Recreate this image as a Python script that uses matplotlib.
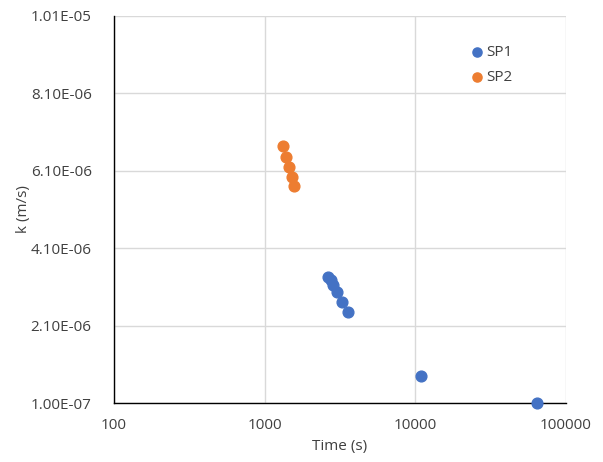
import matplotlib
matplotlib.use("Agg")
import matplotlib.pyplot as plt
from matplotlib.ticker import FixedLocator, FuncFormatter

# values
sp1_time = [2630, 2760, 2840, 3020, 3260, 3570, 10900, 64200]
sp1_k = [3.36e-6, 3.28e-6, 3.15e-6, 2.97e-6, 2.71e-6, 2.45e-6, 7.98e-7, 1.0e-7]
sp2_time = [1320, 1390, 1450, 1510, 1565]
sp2_k = [6.75e-6, 6.46e-6, 6.19e-6, 5.93e-6, 5.71e-6]

x_ticks = [100, 1000, 10000, 100000]
y_ticks = [1.0e-7, 2.1e-6, 4.1e-6, 6.1e-6, 8.1e-6, 1.01e-5]

plt.rcParams['font.family'] = ['Open Sans', 'DejaVu Sans']

fig = plt.figure(figsize=(6.03, 4.62), dpi=100)
ax = fig.add_axes([0.189, 0.1277, 0.7496, 0.8377])

ax.scatter(sp1_time, sp1_k, s=60, color='#4472C4', label='SP1', zorder=3, clip_on=False)
ax.scatter(sp2_time, sp2_k, s=60, color='#ED7D31', label='SP2', zorder=3, clip_on=False)

ax.set_xscale('log')
ax.set_xlim(100, 100000)
ax.set_ylim(1.0e-7, 1.01e-5)
ax.xaxis.set_major_locator(FixedLocator(x_ticks))
ax.xaxis.set_minor_locator(FixedLocator([]))
ax.xaxis.set_major_formatter(FuncFormatter(lambda v, p: f"{v:.0f}"))
ax.yaxis.set_major_locator(FixedLocator(y_ticks))
ax.yaxis.set_major_formatter(FuncFormatter(lambda v, p: f"{v:.2E}"))

ax.grid(True, color='#D9D9D9', linewidth=1, zorder=0)
ax.set_axisbelow(True)
for side in ['top', 'right']:
    ax.spines[side].set_visible(False)
for side in ['left', 'bottom']:
    ax.spines[side].set_color('black')
    ax.spines[side].set_linewidth(1)

ax.tick_params(axis='both', length=0, labelsize=11, colors='#404040')
ax.tick_params(axis='y', pad=16)
ax.tick_params(axis='x', pad=11)

ax.set_xlabel("Time (s)", fontsize=11, color='#404040', labelpad=4)
ax.set_ylabel("k (m/s)", fontsize=11, color='#404040', labelpad=0)

ax.legend(loc='upper left', bbox_to_anchor=(0.755, 0.96), frameon=False, fontsize=11,
          handlelength=1.0, handletextpad=0.15, labelspacing=0.65, markerscale=0.85,
          labelcolor='#404040')

fig.savefig("out.png", dpi=100)
